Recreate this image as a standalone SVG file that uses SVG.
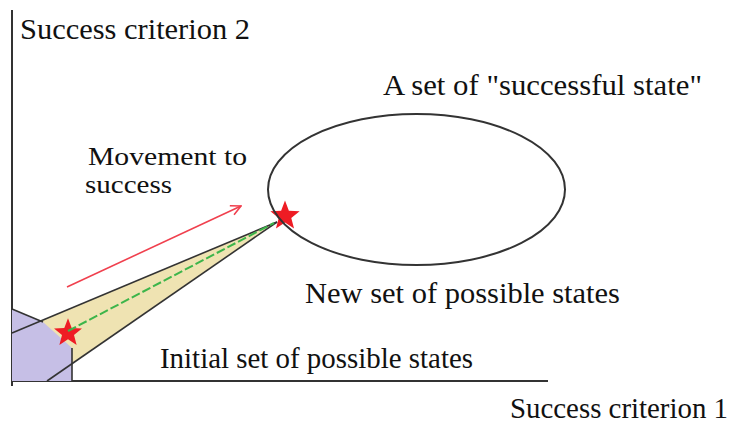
<svg xmlns="http://www.w3.org/2000/svg" width="734" height="432" viewBox="0 0 734 432">
<defs>
<style>
.lbl{font-family:"Liberation Serif","Times New Roman",serif;font-size:29px;fill:#111}
.sm{font-size:25px}
.ax{stroke:#333;stroke-width:2;fill:none}
.edge{stroke:#333;stroke-width:1.6;fill:none}
</style>
<path id="star" d="M0,-14 L3.53,-4.85 L13.31,-4.33 L5.71,1.85 L8.23,11.33 L0,6 L-8.23,11.33 L-5.71,1.85 L-13.31,-4.33 L-3.53,-4.85 Z" fill="#ee1c24"/>
<marker id="openhead" viewBox="0 0 12 12" refX="11" refY="6" markerWidth="12" markerHeight="12" markerUnits="userSpaceOnUse" orient="auto">
<path d="M1,1 L11,6 L1,11" fill="none" stroke="#f0404e" stroke-width="1.6"/>
</marker>
</defs>
<rect width="734" height="432" fill="#fff"/>

<g id="axes">
<line class="ax" x1="12" y1="10" x2="12" y2="386"/>
<line class="ax" x1="11" y1="381" x2="548" y2="381"/>
</g>

<g id="new-set-cone">
<polygon points="12,333 277,222 47,381" fill="#efe3b2"/>
</g>

<g id="initial-set">
<polygon points="12,309 43,322 72,348 72,381 12,381" fill="#c6bfe6"/>
<polyline class="edge" points="12,309 43,322"/>
<line class="edge" x1="72" y1="348" x2="72" y2="381"/>
</g>

<g id="star-initial"><use href="#star" transform="translate(68 333) scale(1.05)"/></g>
<g id="star-new"><use href="#star" transform="translate(285 216) scale(1.1)"/></g>

<g id="cone-edges">
<line class="edge" x1="12" y1="333" x2="277" y2="222"/>
<line class="edge" x1="47" y1="381" x2="277" y2="222"/>
</g>

<g id="successful-states">
<ellipse cx="416.5" cy="189.5" rx="148.5" ry="75.5" fill="none" stroke="#333" stroke-width="2"/>
</g>

<g id="connectors">
<line x1="68" y1="331" x2="274" y2="223" stroke="#3cb54a" stroke-width="2" stroke-dasharray="9 3"/>
<line x1="67" y1="287" x2="241" y2="206" stroke="#f0404e" stroke-width="1.6" marker-end="url(#openhead)"/>
</g>

<g id="labels">
<text class="lbl" x="20" y="39" textLength="230" lengthAdjust="spacingAndGlyphs">Success criterion 2</text>
<text class="lbl" x="383" y="95" textLength="319" lengthAdjust="spacingAndGlyphs">A set of "successful state"</text>
<text class="lbl sm" x="88" y="165" textLength="159" lengthAdjust="spacingAndGlyphs">Movement to</text>
<text class="lbl sm" x="85" y="193" textLength="87" lengthAdjust="spacingAndGlyphs">success</text>
<text class="lbl" x="305" y="303" textLength="315" lengthAdjust="spacingAndGlyphs">New set of possible states</text>
<text class="lbl" x="160" y="368" textLength="313" lengthAdjust="spacingAndGlyphs">Initial set of possible states</text>
<text class="lbl" x="510" y="418" textLength="218" lengthAdjust="spacingAndGlyphs">Success criterion 1</text>
</g>
</svg>
